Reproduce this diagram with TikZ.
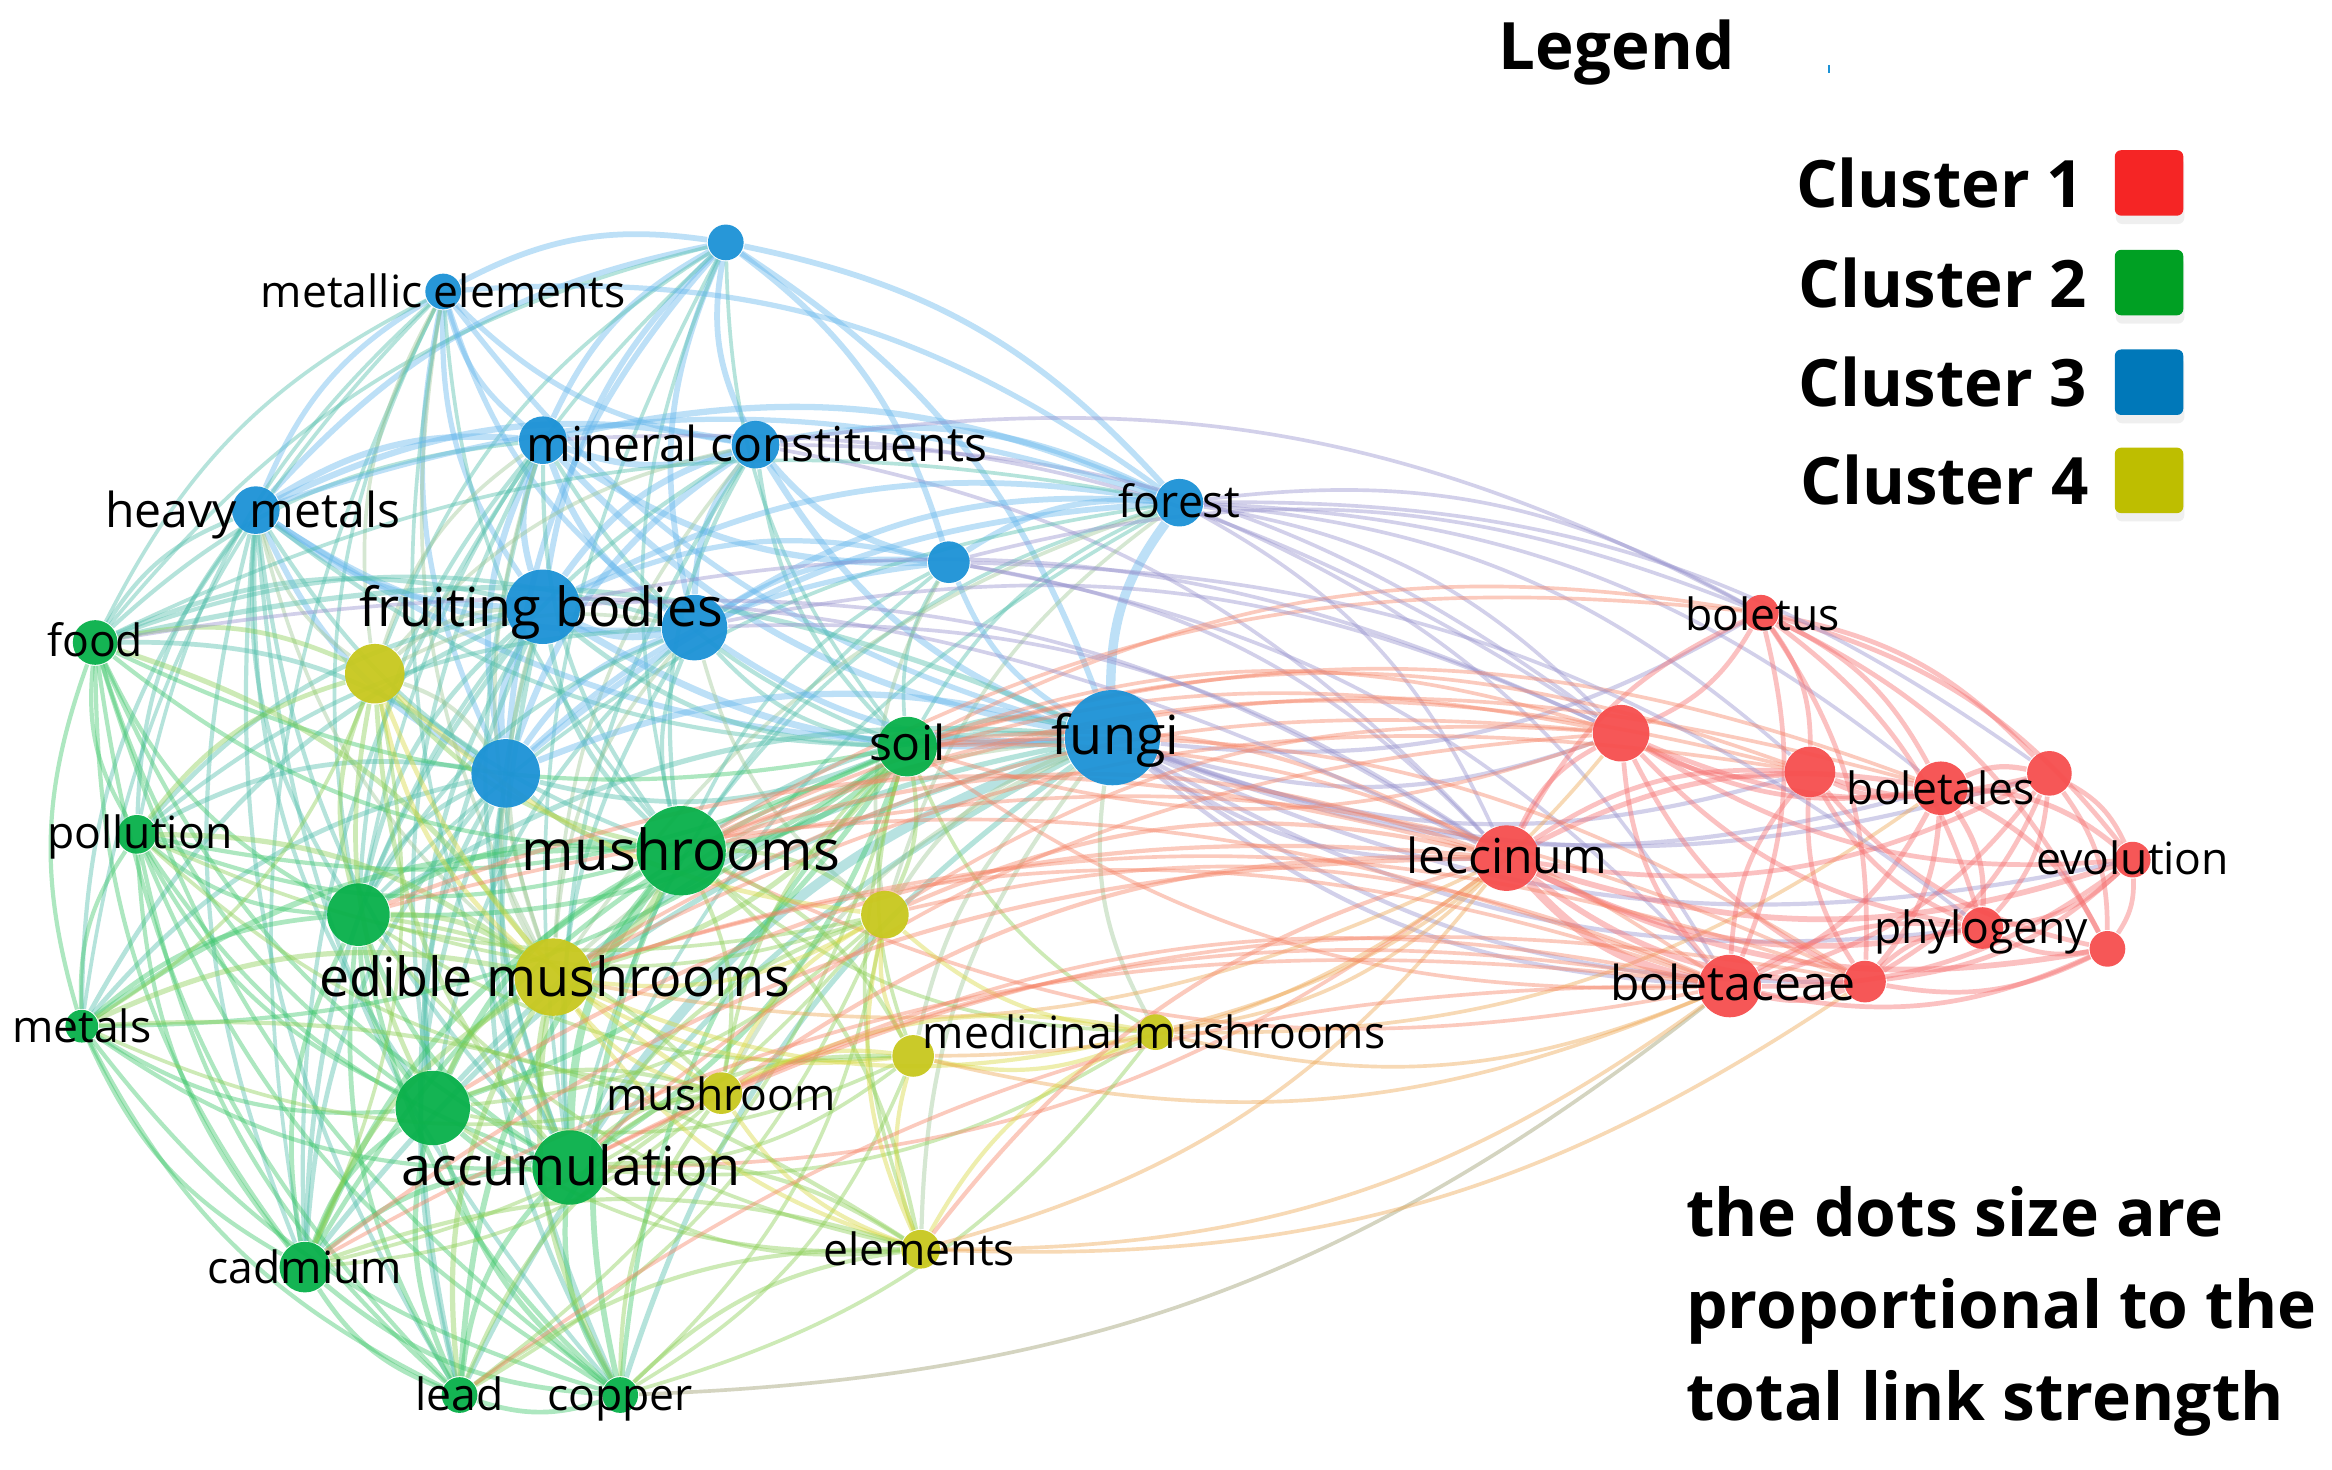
\documentclass[tikz,border=0pt]{standalone}
\usepackage{fontspec}
\setmainfont{Open Sans}
\usetikzlibrary{shadows}
\definecolor{cB}{RGB}{28,146,214}
\definecolor{cG}{RGB}{8,176,74}
\definecolor{cY}{RGB}{200,200,30}
\definecolor{cR}{RGB}{246,78,78}
\definecolor{eB}{RGB}{100,182,236}
\definecolor{eG}{RGB}{60,198,105}
\definecolor{eY}{RGB}{215,215,60}
\definecolor{eR}{RGB}{246,108,108}
\definecolor{eO}{RGB}{246,130,100}
\definecolor{eA}{RGB}{238,165,80}
\definecolor{eP}{RGB}{150,145,205}
\definecolor{lR}{RGB}{245,37,37}
\definecolor{lG}{RGB}{0,160,35}
\definecolor{lB}{RGB}{0,120,185}
\definecolor{lY}{RGB}{190,190,0}
\pgfdeclarelayer{back}\pgfdeclarelayer{bg}\pgfsetlayers{back,bg,main}
\begin{document}
\begin{tikzpicture}[x=0.01cm,y=-0.01cm,
  dot/.style n args={2}{circle,inner sep=0pt,fill=#1,fill opacity=0.95,minimum size=#2*0.02cm},
  ed/.style={draw=#1,draw opacity=0.42},
  labS/.style={inner sep=0pt,text height=6.1pt,text depth=0pt,font=\fontsize{8.5}{10}\selectfont},
  labM/.style={inner sep=0pt,text height=6.6pt,text depth=0pt,font=\fontsize{9.2}{11}\selectfont},
  labL/.style={inner sep=0pt,text height=7.4pt,text depth=0pt,font=\fontsize{10.3}{12}\selectfont},
  leg/.style={inner sep=0pt,font=\fontsize{12.5}{15}\selectfont\bfseries},
  sq/.style={fill=#1,rounded corners=1.2pt,minimum width=0.46cm,minimum height=0.44cm,inner sep=0pt,
    drop shadow={opacity=0.12,shadow xshift=0.2pt,shadow yshift=-1.6pt}}]
\begin{pgfonlayer}{back}
\fill[white] (0,0) rectangle (1568,988);
\end{pgfonlayer}
\useasboundingbox (0,0) rectangle (1568,988);
% ---- blue nodes
\node[dot={cB}{12}] (b1) at (488,163) {};
\node[dot={cB}{12}] (metal) at (298,196) {};
\node[dot={cB}{16}] (minA) at (365,296) {};
\node[dot={cB}{16}] (minB) at (508,299) {};
\node[dot={cB}{16}] (heavy) at (172,343) {};
\node[dot={cB}{16}] (forest) at (793,338) {};
\node[dot={cB}{14}] (b7) at (638,378) {};
\node[dot={cB}{25}] (fruit) at (365,408) {};
\node[dot={cB}{22}] (b9) at (467,422) {};
\node[dot={cB}{32}] (fungi) at (748,496) {};
\node[dot={cB}{23}] (b11) at (340,520) {};
% ---- green nodes
\node[dot={cG}{15}] (food) at (64,432) {};
\node[dot={cG}{20}] (soil) at (610,502) {};
\node[dot={cG}{13}] (poll) at (92,561) {};
\node[dot={cG}{30}] (mush) at (458,572) {};
\node[dot={cG}{21}] (g5) at (241,615) {};
\node[dot={cG}{11}] (metals) at (55,690) {};
\node[dot={cG}{25}] (acc1) at (291,745) {};
\node[dot={cG}{25}] (acc) at (383,785) {};
\node[dot={cG}{17}] (cad) at (205,852) {};
\node[dot={cG}{12}] (lead) at (309,938) {};
\node[dot={cG}{12}] (copper) at (417,938) {};
% ---- yellow nodes
\node[dot={cY}{20}] (y1) at (252,453) {};
\node[dot={cY}{26}] (edible) at (372,657) {};
\node[dot={cY}{16}] (y3) at (595,615) {};
\node[dot={cY}{14}] (y4) at (614,710) {};
\node[dot={cY}{12}] (medic) at (777,694) {};
\node[dot={cY}{14}] (mushroom) at (485,735) {};
\node[dot={cY}{13}] (elem) at (619,840) {};
% ---- red nodes
\node[dot={cR}{12}] (boletus) at (1184,412) {};
\node[dot={cR}{19}] (r2) at (1090,493) {};
\node[dot={cR}{17}] (r3) at (1217,519) {};
\node[dot={cR}{18}] (boletales) at (1305,530) {};
\node[dot={cR}{15}] (r5) at (1378,520) {};
\node[dot={cR}{22}] (lecc) at (1013,577) {};
\node[dot={cR}{12}] (evol) at (1434,578) {};
\node[dot={cR}{14}] (phylo) at (1333,624) {};
\node[dot={cR}{12}] (r9) at (1417,638) {};
\node[dot={cR}{21}] (boletac) at (1163,663) {};
\node[dot={cR}{14}] (r11) at (1254,660) {};
% ---- edges: source / colour / bend / width / targets
\begin{pgfonlayer}{bg}
\foreach \s/\c/\b/\w/\L in {
 b1/eB/18/1.1/{metal,minA,minB,heavy,fruit,b9,b11},
 b1/eB/-18/1.1/{forest,b7,fungi},
 b1/eB!50!eG/18/0.7/{food,mush,soil,g5,acc,y1},
 metal/eB/18/1.0/{minA,minB,heavy,fruit,b9,fungi,b11},
 metal/eB/-20/1.0/{forest},
 metal/eB!50!eG/18/0.7/{food,poll,metals,mush,g5,acc,cad},
 metal/eB!50!eY/18/0.7/{y1,edible},
 minA/eB/18/1.2/{minB,heavy,fruit,b9,fungi,b11,b7},
 minA/eB/-18/1.2/{forest},
 minA/eB!50!eG/18/0.8/{mush,soil,acc,food,g5,acc1,cad},
 minA/eB!50!eY/18/0.7/{y1,edible},
 minB/eB/18/1.2/{heavy,fruit,b9,fungi,b11,b7},
 minB/eB/-18/1.2/{forest},
 minB/eB!50!eG/18/0.8/{mush,soil,acc,g5},
 minB/eB!50!eY/18/0.7/{y1,edible},
 minB/eP/-18/0.7/{lecc,r2},
 heavy/eB/18/1.1/{fruit,b9,fungi,b11},
 heavy/eB/-18/1.0/{forest},
 heavy/eB!50!eG/18/0.8/{food,poll,metals,cad,mush,acc,g5,acc1,lead,copper,soil},
 heavy/eB!50!eY/18/0.7/{y1,edible},
 forest/eB/18/1.1/{fruit,b9,b7,b11},
 forest/eB/18/1.8/{fungi},
 forest/eP/-18/0.7/{lecc,r2,boletac,boletus,r3,boletales},
 forest/eB!50!eG/18/0.7/{soil,mush,acc,g5,food},
 forest/eB!50!eY/18/0.7/{y3,edible},
 b7/eB/18/1.0/{fruit,b9,fungi,b11},
 b7/eB!50!eG/18/0.7/{soil,mush,acc},
 b7/eB!50!eY/18/0.7/{y3},
 b7/eP/-18/0.7/{lecc,boletac},
 fruit/eB/18/1.3/{b9,fungi,b11},
 fruit/eB!50!eG/18/0.9/{mush,soil,food,acc,g5,poll,metals,cad,lead,copper,acc1},
 fruit/eB!50!eY/18/0.8/{y1,edible},
 b9/eB/18/1.1/{fungi,b11},
 b9/eB!50!eG/18/0.8/{mush,soil,acc,g5,acc1,food,poll},
 b9/eB!50!eY/18/0.7/{y1,edible,y3},
 fungi/eB/18/1.2/{b11},
 fungi/eB!50!eG/18/1.0/{soil,mush,acc1,g5,food,cad,lead,copper},
 fungi/eB!60!eG/18/1.9/{acc},
 fungi/eB!50!eY/18/0.8/{y3,y4,medic,mushroom,edible,elem},
 fungi/eP/18/0.8/{lecc,r2,boletac,boletus,boletales,r3,r11,phylo,evol,r5},
 b11/eB!50!eG/18/0.9/{mush,acc,acc1,g5,soil,food,poll,metals,cad,lead,copper},
 b11/eB!50!eY/18/0.8/{edible,y1},
 food/eG/18/0.8/{poll,metals,mush,g5,acc1,acc,cad,soil,lead,copper},
 poll/eG/18/0.8/{metals,mush,g5,acc1,acc,cad,lead,copper,soil},
 poll/eG!50!eY/18/0.7/{y3,mushroom},
 mush/eG/18/1.1/{soil,g5,metals,acc1,cad,lead,copper},
 mush/eG/18/1.5/{acc},
 mush/eG!50!eY/18/0.7/{medic},
 mush/eO/18/0.7/{boletac},
 g5/eG/18/0.9/{metals,acc1,acc,cad,lead,copper,soil},
 g5/eG!50!eY/18/0.7/{y3,y4,elem},
 metals/eG/18/0.8/{acc1,acc,cad,lead,copper,soil},
 metals/eG!50!eY/18/0.7/{y1,mushroom},
 acc1/eG/18/1.0/{acc,cad,lead,copper,soil},
 acc1/eG!50!eY/18/0.7/{y3,y4,elem},
 acc/eG/18/1.0/{cad,lead,copper,soil},
 acc/eG!50!eY/18/0.7/{y4,medic,elem},
 acc/eO/18/0.7/{lecc},
 cad/eG/18/0.9/{lead,copper},
 cad/eG!50!eY/18/0.7/{y1,mushroom,y3},
 lead/eG/18/0.9/{copper},
 lead/eG!50!eY/18/0.7/{y3,soil},
 copper/eG!50!eY/18/0.7/{y3,y4,medic},
 soil/eG/18/0.9/{cad,copper},
 soil/eG!50!eY/18/0.7/{medic,elem,y4,mushroom},
 soil/eO/18/0.7/{boletac,r2},
 copper/eG!50!eR/18/0.7/{boletac},
 edible/eY!50!eG/18/1.0/{g5,acc,acc1,food,poll,metals,cad,lead,copper,soil},
 edible/eY!50!eG/18/1.5/{mush},
 edible/eY/18/0.8/{y3,y4,medic,mushroom,elem},
 edible/eA/18/0.7/{lecc},
 y1/eY!50!eG/18/0.9/{food,mush,g5,poll,acc,acc1},
 y1/eY/18/0.9/{edible,y3,mushroom},
 mushroom/eY!50!eG/18/0.8/{mush,acc,acc1,g5,lead,copper},
 mushroom/eY/18/0.8/{elem},
 elem/eY!50!eG/18/0.8/{mush,acc,cad,lead,copper,metals},
 elem/eA/18/0.7/{lecc,boletac,r11},
 y3/eY!50!eG/18/0.8/{mush,soil,acc},
 y3/eY/18/0.8/{y4,medic,elem,mushroom},
 y4/eY!50!eG/18/0.8/{mush,acc},
 y4/eY/18/0.8/{medic,elem,mushroom},
 y4/eA/18/0.7/{lecc,boletac},
 medic/eY/18/0.8/{elem,mushroom},
 medic/eA/18/0.7/{lecc,boletac,r2,boletales},
 boletus/eR/-18/0.9/{r2,r3,boletales,r5,evol,phylo,r9,boletac,r11},
 boletus/eR/18/0.9/{lecc},
 boletus/eP/18/0.7/{minB,b7},
 boletus/eO/18/0.7/{soil,mush},
 r2/eR/18/0.9/{r3,boletales,r5,lecc,phylo,boletac,r11,evol},
 r2/eO/18/0.7/{soil,mush,y3,edible,acc},
 r2/eP/18/0.7/{fruit,b9,minA},
 r3/eR/18/0.9/{boletales,r5,lecc,phylo,boletac,r11,r9},
 r3/eO/18/0.7/{soil,mush,edible},
 boletales/eR/-18/1.0/{r5,evol,phylo,r9,boletac,r11},
 boletales/eR/18/1.0/{lecc},
 boletales/eO/18/0.7/{soil,mush},
 r5/eR/-18/0.9/{evol,phylo,r9,boletac,r11,lecc},
 r5/eP/18/0.7/{forest},
 lecc/eR/18/1.1/{evol,phylo,r9,r11},
 lecc/eR/18/1.6/{boletac},
 lecc/eO/18/0.8/{mush,soil,y3,elem,mushroom,g5,acc1,cad},
 lecc/eP/18/0.7/{fruit,b9,food},
 evol/eR/-18/0.9/{phylo,r9,boletac,r11},
 phylo/eR/18/0.9/{r9,boletac,r11},
 phylo/eP/18/0.7/{b7},
 r9/eR/-18/0.9/{boletac,r11},
 boletac/eR/18/1.2/{r11},
 boletac/eO/18/0.7/{edible,acc,mushroom,cad,soil,y3,lead,g5},
 r11/eO/18/0.7/{mush,soil,acc,edible}}
 {\foreach \t in \L {\draw[ed=\c,line width=\w pt] (\s) to[bend right=\b] (\t);}}
\end{pgfonlayer}
% ---- labels
\node[labS] (Lmetal) at (298,196) {metallic elements};
\node[labM] (LminB) at (509,299) {mineral constituents};
\node[labM] (Lheavy) at (170,343) {heavy metals};
\node[labS] (Lforest) at (793,337) {forest};
\node[labL] (Lfruit) at (364,408) {fruiting bodies};
\node[labS] (Lfood) at (64,431) {food};
\node[labM] (Lsoil) at (610,500) {soil};
\node[labL] (Lfungi) at (750,494) {fungi};
\node[labS] (Lpoll) at (94,560) {pollution};
\node[labL,font=\fontsize{10.8}{12}\selectfont] (Lmush) at (458,572) {mushrooms};
\node[labL] (Ledible) at (373,657) {edible mushrooms};
\node[labS] (Lmetals) at (55,690) {metals};
\node[labS] (Lmedic) at (776,694) {medicinal mushrooms};
\node[labS] (Lmushroom) at (485,736) {mushroom};
\node[labL] (Lacc) at (384,784) {accumulation};
\node[labS] (Lelem) at (618,840) {elements};
\node[labS] (Lcad) at (205,852) {cadmium};
\node[labS] (Llead) at (309,938) {lead};
\node[labS] (Lcopper) at (417,938) {copper};
\node[labS] (Lboletus) at (1185,413) {boletus};
\node[labS] (Lboletales) at (1305,530) {boletales};
\node[labM] (Llecc) at (1013,576) {leccinum};
\node[labS] (Levol) at (1434,577) {evolution};
\node[labS] (Lphylo) at (1332,624) {phylogeny};
\node[labM] (Lboletac) at (1165,661) {boletaceae};
% ---- legend
\node[leg] (legend) at (1087,35) {Legend};
\fill[cB] (1229.3,44) rectangle (1230.7,49);
\node[leg,anchor=east] (c1) at (1402,123) {Cluster 1};
\node[leg,anchor=east] (c2) at (1404,190) {Cluster 2};
\node[leg,anchor=east] (c3) at (1404,257) {Cluster 3};
\node[leg,anchor=east] (c4) at (1405,323) {Cluster 4};
\node[sq=lR] (s1) at (1445,123) {};
\node[sq=lG] (s2) at (1445,190) {};
\node[sq=lB] (s3) at (1445,257) {};
\node[sq=lY] (s4) at (1445,323) {};
\node[leg,anchor=north west,align=left,font=\fontsize{12.6}{17.6}\selectfont\bfseries] (note) at (1133,797)
 {the dots size are\\proportional to the\\total link strength};
\end{tikzpicture}
\end{document}
